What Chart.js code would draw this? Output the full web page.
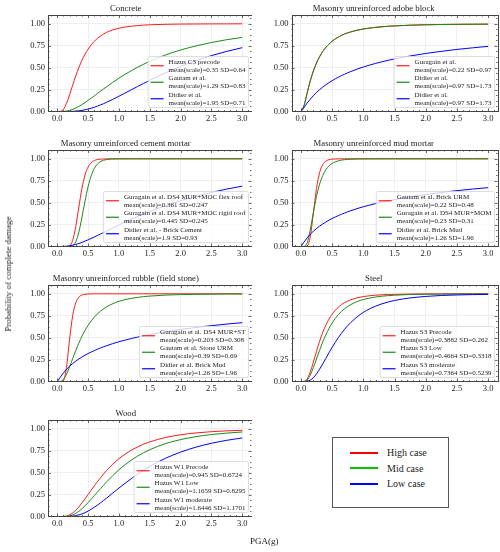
<!DOCTYPE html>
<html>
<head>
<meta charset="utf-8">
<script src="https://cdn.jsdelivr.net/npm/chart.js@4.4.1/dist/chart.umd.min.js"></script>
<style>
  body { margin: 0; width: 500px; height: 552px; background: #fff; position: relative; overflow: hidden; font-family: 'Liberation Serif', serif; color: #222; }
  canvas { position: absolute; }
  .ylab { position: absolute; left: 8px; top: 274px; transform: translate(-50%, -50%) rotate(-90deg); font-size: 9px; white-space: nowrap; }
  .xlab { position: absolute; left: 250px; top: 536px; font-size: 9px; }
  #caseLegend { position: absolute; left: 332px; top: 437px; width: 115px; height: 62px; border: 1px solid #555; padding-top: 7px; box-sizing: content-box; }
  #caseLegend .row { display: flex; align-items: center; height: 15.5px; }
  #caseLegend .swatch { margin-left: 17px; width: 28px; height: 2px; }
  #caseLegend .txt { margin-left: 9px; font-size: 10px; }
</style>
</head>
<body>
<canvas id="c1" width="252" height="135" style="left:0;top:0"></canvas>
<canvas id="c2" width="250" height="135" style="left:250px;top:0"></canvas>
<canvas id="c3" width="252" height="135" style="left:0;top:135px"></canvas>
<canvas id="c4" width="250" height="135" style="left:250px;top:135px"></canvas>
<canvas id="c5" width="252" height="135" style="left:0;top:270px"></canvas>
<canvas id="c6" width="250" height="135" style="left:250px;top:270px"></canvas>
<canvas id="c7" width="252" height="135" style="left:0;top:405px"></canvas>
<div class="ylab">Probability of complete damage</div>
<div class="xlab">PGA(g)</div>
<div id="caseLegend"></div>
<script>
// PGA sample points (g)
const pga = [0, 0.05, 0.1, 0.15, 0.2, 0.25, 0.3, 0.35, 0.4, 0.45, 0.5, 0.55, 0.6, 0.65, 0.7, 0.75, 0.8, 0.9, 1.0, 1.1, 1.2, 1.3, 1.4, 1.5, 1.75, 2.0, 2.25, 2.5, 2.75, 3.0];

const xTickValues = [0, 0.5, 1.0, 1.5, 2.0, 2.5, 3.0];
const xTickLabels = ['0.0', '0.5', '1.0', '1.5', '2.0', '2.5', '3.0'];
const yTickValues = [0, 0.25, 0.5, 0.75, 1.0];
const yTickLabels = ['0.00', '0.25', '0.50', '0.75', '1.00'];

const caseNames = ['High case', 'Mid case', 'Low case'];
const caseColors = ['#ff0000', '#00c000', '#0000ff'];
const lineColors = ['#ff1a1a', '#1a8a1a', '#0000ff'];

// Concrete
const concreteHigh = [0, 0.001, 0.025, 0.093, 0.191, 0.300, 0.405, 0.500, 0.583, 0.653, 0.711, 0.760, 0.800, 0.833, 0.860, 0.883, 0.902, 0.930, 0.949, 0.963, 0.973, 0.980, 0.985, 0.989, 0.994, 0.997, 0.998, 0.999, 0.999, 1.000];
const concreteMid = [0, 0, 0.001, 0.005, 0.012, 0.024, 0.040, 0.058, 0.079, 0.102, 0.127, 0.152, 0.178, 0.205, 0.231, 0.257, 0.282, 0.332, 0.380, 0.424, 0.465, 0.504, 0.539, 0.572, 0.643, 0.701, 0.748, 0.787, 0.819, 0.845];
const concreteLow = [0, 0, 0, 0, 0.001, 0.002, 0.004, 0.008, 0.013, 0.020, 0.028, 0.037, 0.049, 0.061, 0.075, 0.089, 0.105, 0.138, 0.174, 0.210, 0.247, 0.284, 0.320, 0.356, 0.440, 0.514, 0.580, 0.637, 0.686, 0.728];
const concreteNames = [['Hazus C3 precode', 'mean(scale)=0.35 SD=0.64'], ['Gautam et al.', 'mean(scale)=1.29 SD=0.83'], ['Didier et al.', 'mean(scale)=1.95 SD=0.71']];

// Masonry unreinforced adobe block
const adobeHigh = [0, 0.064, 0.208, 0.347, 0.461, 0.552, 0.625, 0.684, 0.731, 0.769, 0.801, 0.827, 0.849, 0.868, 0.884, 0.897, 0.908, 0.927, 0.941, 0.951, 0.960, 0.966, 0.972, 0.976, 0.984, 0.989, 0.992, 0.994, 0.995, 0.996];
const adobeMid = [0, 0.064, 0.208, 0.347, 0.461, 0.552, 0.625, 0.684, 0.731, 0.769, 0.801, 0.827, 0.849, 0.868, 0.884, 0.897, 0.908, 0.927, 0.941, 0.951, 0.960, 0.966, 0.972, 0.976, 0.984, 0.989, 0.992, 0.994, 0.995, 0.996];
const adobeLow = [0, 0.043, 0.095, 0.140, 0.181, 0.217, 0.249, 0.278, 0.304, 0.329, 0.351, 0.372, 0.391, 0.409, 0.425, 0.441, 0.456, 0.483, 0.507, 0.529, 0.549, 0.567, 0.584, 0.599, 0.633, 0.662, 0.686, 0.708, 0.726, 0.743];
const adobeNames = [['Guragain et al.', 'mean(scale)=0.22 SD=0.97'], ['Didier et al.', 'mean(scale)=0.97 SD=1.73'], ['Didier et al.', 'mean(scale)=0.97 SD=1.73']];

// Masonry unreinforced cement mortar
const cementHigh = [0, 0, 0, 0, 0.008, 0.069, 0.227, 0.450, 0.661, 0.814, 0.906, 0.956, 0.980, 0.991, 0.996, 0.998, 0.999, 1, 1, 1, 1, 1, 1, 1, 1, 1, 1, 1, 1, 1];
const cementMid = [0, 0, 0, 0, 0.001, 0.009, 0.054, 0.164, 0.332, 0.518, 0.683, 0.806, 0.889, 0.939, 0.968, 0.983, 0.992, 0.998, 1, 1, 1, 1, 1, 1, 1, 1, 1, 1, 1, 1];
const cementLow = [0, 0, 0.001, 0.003, 0.008, 0.015, 0.024, 0.034, 0.047, 0.061, 0.076, 0.092, 0.108, 0.125, 0.142, 0.159, 0.176, 0.211, 0.245, 0.278, 0.311, 0.342, 0.372, 0.400, 0.465, 0.522, 0.572, 0.616, 0.655, 0.688];
const cementNames = [['Guragain et al. DS4 MUR+MOC flex roof', 'mean(scale)=0.361 SD=0.247'], ['Guragain et al. DS4 MUR+MOC rigid roof', 'mean(scale)=0.445 SD=0.245'], ['Didier et al. - Brick Cement', 'mean(scale)=1.9 SD=0.93']];

// Masonry unreinforced mud mortar
const mudHigh = [0, 0, 0.005, 0.109, 0.380, 0.660, 0.841, 0.933, 0.973, 0.990, 0.996, 0.998, 0.999, 1, 1, 1, 1, 1, 1, 1, 1, 1, 1, 1, 1, 1, 1, 1, 1, 1];
const mudMid = [0, 0.001, 0.042, 0.187, 0.386, 0.569, 0.710, 0.809, 0.875, 0.919, 0.947, 0.965, 0.977, 0.985, 0.990, 0.993, 0.995, 0.998, 0.999, 0.999, 1, 1, 1, 1, 1, 1, 1, 1, 1, 1];
const mudLow = [0, 0.050, 0.098, 0.139, 0.174, 0.205, 0.232, 0.257, 0.279, 0.300, 0.319, 0.336, 0.352, 0.368, 0.382, 0.396, 0.408, 0.432, 0.453, 0.472, 0.490, 0.506, 0.521, 0.535, 0.567, 0.593, 0.616, 0.637, 0.655, 0.671];
const mudNames = [['Gautam et al. Brick URM', 'mean(scale)=0.22 SD=0.48'], ['Guragain et al. DS4 MUR+MOM', 'mean(scale)=0.23 SD=0.31'], ['Didier et al. Brick Mud', 'mean(scale)=1.26 SD=1.96']];

// Masonry unreinforced rubble (field stone)
const rubbleHigh = [0, 0, 0.011, 0.163, 0.481, 0.750, 0.897, 0.962, 0.986, 0.995, 0.998, 0.999, 1, 1, 1, 1, 1, 1, 1, 1, 1, 1, 1, 1, 1, 1, 1, 1, 1, 1];
const rubbleMid = [0, 0.001, 0.024, 0.083, 0.167, 0.260, 0.352, 0.438, 0.515, 0.582, 0.640, 0.691, 0.734, 0.770, 0.801, 0.828, 0.851, 0.887, 0.914, 0.934, 0.948, 0.959, 0.968, 0.974, 0.985, 0.991, 0.994, 0.996, 0.998, 0.998];
const rubbleLow = [0, 0.050, 0.098, 0.139, 0.174, 0.205, 0.232, 0.257, 0.279, 0.300, 0.319, 0.336, 0.352, 0.368, 0.382, 0.396, 0.408, 0.432, 0.453, 0.472, 0.490, 0.506, 0.521, 0.535, 0.567, 0.593, 0.616, 0.637, 0.655, 0.671];
const rubbleNames = [['Guragain et al. DS4 MUR+ST', 'mean(scale)=0.203 SD=0.308'], ['Gautam et al. Stone URM', 'mean(scale)=0.39 SD=0.69'], ['Didier et al. Brick Mud', 'mean(scale)=1.26 SD=1.96']];

// Steel
const steelHigh = [0, 0.001, 0.029, 0.108, 0.221, 0.343, 0.458, 0.558, 0.642, 0.711, 0.766, 0.811, 0.847, 0.876, 0.899, 0.917, 0.932, 0.954, 0.968, 0.978, 0.984, 0.989, 0.992, 0.994, 0.997, 0.999, 0.999, 1, 1, 1];
const steelMid = [0, 0.001, 0.018, 0.073, 0.158, 0.257, 0.356, 0.449, 0.532, 0.604, 0.666, 0.718, 0.762, 0.799, 0.830, 0.856, 0.877, 0.911, 0.935, 0.951, 0.964, 0.973, 0.979, 0.984, 0.992, 0.995, 0.997, 0.998, 0.999, 0.999];
const steelLow = [0, 0, 0.003, 0.015, 0.043, 0.086, 0.140, 0.200, 0.263, 0.327, 0.388, 0.446, 0.500, 0.550, 0.595, 0.636, 0.673, 0.736, 0.788, 0.828, 0.860, 0.886, 0.907, 0.924, 0.953, 0.970, 0.981, 0.987, 0.991, 0.994];
const steelNames = [['Hazus S3 Precode', 'mean(scale)=0.3882 SD=0.262'], ['Hazus S3 Low', 'mean(scale)=0.4664 SD=0.3318'], ['Hazus S3 moderate', 'mean(scale)=0.7364 SD=0.5239']];

// Wood
const woodHigh = [0, 0, 0.001, 0.005, 0.018, 0.040, 0.071, 0.109, 0.153, 0.201, 0.250, 0.300, 0.348, 0.396, 0.441, 0.484, 0.524, 0.596, 0.659, 0.711, 0.756, 0.793, 0.825, 0.851, 0.900, 0.932, 0.953, 0.967, 0.977, 0.983];
const woodMid = [0, 0, 0, 0.002, 0.007, 0.018, 0.036, 0.059, 0.088, 0.122, 0.158, 0.197, 0.237, 0.277, 0.317, 0.356, 0.394, 0.466, 0.532, 0.591, 0.642, 0.688, 0.728, 0.762, 0.830, 0.877, 0.911, 0.935, 0.951, 0.964];
const woodLow = [0, 0, 0, 0, 0.001, 0.004, 0.010, 0.018, 0.029, 0.044, 0.062, 0.082, 0.105, 0.129, 0.155, 0.182, 0.210, 0.267, 0.324, 0.379, 0.431, 0.481, 0.527, 0.570, 0.662, 0.734, 0.791, 0.835, 0.869, 0.896];
const woodNames = [['Hazus W1 Precode', 'mean(scale)=0.945 SD=0.6724'], ['Hazus W1 Low', 'mean(scale)=1.1659 SD=0.8295'], ['Hazus W1 moderate', 'mean(scale)=1.6446 SD=1.1701']];

const FONT = "'Liberation Serif', serif";
const TEXT = '#222';

// inward major/minor ticks on all four sides + the axes box
const frameTicks = {
  id: 'frameTicks',
  afterDatasetsDraw(chart) {
    const { ctx, chartArea: a, scales: { x, y } } = chart;
    ctx.save();
    ctx.strokeStyle = '#444';
    ctx.lineWidth = 0.8;
    ctx.beginPath();
    for (let k = -1; k <= 31; k++) {
      const px = Math.round(x.getPixelForValue(k / 10)) + 0.5;
      if (px < a.left || px > a.right) continue;
      const len = k % 5 === 0 ? 3 : 1.5;
      ctx.moveTo(px, a.bottom); ctx.lineTo(px, a.bottom - len);
      ctx.moveTo(px, a.top); ctx.lineTo(px, a.top + len);
    }
    for (let k = 0; k <= 17; k++) {
      const py = Math.round(y.getPixelForValue(k * 0.0625)) + 0.5;
      if (py < a.top || py > a.bottom) continue;
      const len = k % 4 === 0 ? 3 : 1.5;
      ctx.moveTo(a.left, py); ctx.lineTo(a.left + len, py);
      ctx.moveTo(a.right, py); ctx.lineTo(a.right - len, py);
    }
    ctx.stroke();
    ctx.lineWidth = 1;
    ctx.strokeRect(Math.round(a.left) + 0.5, Math.round(a.top) + 0.5, Math.round(a.right - a.left), Math.round(a.bottom - a.top));
    ctx.restore();
  }
};

// matplotlib-like legend box with two-line entries, lower right of the axes
const boxLegend = {
  id: 'boxLegend',
  afterDraw(chart, args, opts) {
    const items = opts.items;
    if (!items) return;
    const { ctx, chartArea: a } = chart;
    ctx.save();
    ctx.font = '7px ' + FONT;
    const padX = 2.5, handle = 13, gap = 5, entryH = 16.5;
    let textW = 0;
    items.forEach((it) => it.text.forEach((t) => { textW = Math.max(textW, ctx.measureText(t).width); }));
    const w = padX + handle + gap + textW + 3;
    const h = items.length * entryH + 1.5;
    const x0 = a.right - 3 - w;
    const y0 = a.bottom - 4 - h;
    ctx.beginPath();
    if (ctx.roundRect) ctx.roundRect(x0, y0, w, h, 2); else ctx.rect(x0, y0, w, h);
    ctx.fillStyle = 'rgba(255,255,255,0.8)';
    ctx.fill();
    ctx.strokeStyle = '#d4d4d4';
    ctx.lineWidth = 0.8;
    ctx.stroke();
    ctx.textBaseline = 'middle';
    items.forEach((it, i) => {
      const cy = y0 + 1 + i * entryH + entryH / 2;
      ctx.strokeStyle = it.color;
      ctx.lineWidth = 1.2;
      ctx.beginPath();
      ctx.moveTo(x0 + padX, cy);
      ctx.lineTo(x0 + padX + handle, cy);
      ctx.stroke();
      ctx.fillStyle = TEXT;
      ctx.fillText(it.text[0], x0 + padX + handle + gap, cy - 4);
      ctx.fillText(it.text[1], x0 + padX + handle + gap, cy + 4);
    });
    ctx.restore();
  }
};

function makePanel(id, title, series, names, leftCol) {
  const yWidth = leftCol ? 48 : 41.5;
  const padRight = leftCol ? 0.5 : 2.5;
  // eslint-disable-next-line no-undef
  return new Chart(document.getElementById(id), {
    type: 'line',
    data: {
      datasets: series.map((ys, i) => ({
        data: pga.map((x, j) => ({ x, y: ys[j] })),
        borderColor: lineColors[i],
        borderWidth: 1,
        pointRadius: 0,
        cubicInterpolationMode: 'monotone',
        fill: false,
        order: 2 - i,
      })),
    },
    options: {
      responsive: false,
      animation: false,
      devicePixelRatio: 1,
      layout: { padding: { left: 0, right: padRight, top: 0, bottom: 0 } },
      plugins: {
        legend: { display: false },
        tooltip: { enabled: false },
        title: { display: true, text: title, color: TEXT, font: { size: 8.7, family: FONT, weight: 'normal' }, padding: { top: 3.2, bottom: 1.4 } },
        boxLegend: { items: names.map((t, i) => ({ text: t, color: lineColors[i] })) },
      },
      scales: {
        x: {
          type: 'linear', min: -0.15, max: 3.15,
          afterBuildTicks: (s) => { s.ticks = xTickValues.map((v) => ({ value: v })); },
          afterFit: (s) => { s.height = 23.5; },
          grid: { color: '#ebebeb', lineWidth: 0.8, drawTicks: false },
          border: { display: false },
          ticks: { padding: 2.5, color: TEXT, font: { size: 8.5, family: FONT }, maxRotation: 0, autoSkip: false, callback: (v, i) => xTickLabels[i] },
        },
        y: {
          type: 'linear', min: 0, max: 1.1,
          afterBuildTicks: (s) => { s.ticks = yTickValues.map((v) => ({ value: v })); },
          afterFit: (s) => { s.width = yWidth; },
          grid: { color: '#ebebeb', lineWidth: 0.8, drawTicks: false },
          border: { display: false },
          ticks: { padding: 3, color: TEXT, font: { size: 8.5, family: FONT }, autoSkip: false, callback: (v, i) => yTickLabels[i] },
        },
      },
    },
    plugins: [frameTicks, boxLegend],
  });
}

makePanel('c1', 'Concrete', [concreteHigh, concreteMid, concreteLow], concreteNames, true);
makePanel('c2', 'Masonry unreinforced adobe block', [adobeHigh, adobeMid, adobeLow], adobeNames, false);
makePanel('c3', 'Masonry unreinforced cement mortar', [cementHigh, cementMid, cementLow], cementNames, true);
makePanel('c4', 'Masonry unreinforced mud mortar', [mudHigh, mudMid, mudLow], mudNames, false);
makePanel('c5', 'Masonry unreinforced rubble (field stone)', [rubbleHigh, rubbleMid, rubbleLow], rubbleNames, true);
makePanel('c6', 'Steel', [steelHigh, steelMid, steelLow], steelNames, false);
makePanel('c7', 'Wood', [woodHigh, woodMid, woodLow], woodNames, true);

// figure-level legend of the three cases
const caseLegend = document.getElementById('caseLegend');
caseNames.forEach((name, i) => {
  const row = document.createElement('div');
  row.className = 'row';
  const sw = document.createElement('span');
  sw.className = 'swatch';
  sw.style.background = caseColors[i];
  const tx = document.createElement('span');
  tx.className = 'txt';
  tx.textContent = name;
  row.appendChild(sw);
  row.appendChild(tx);
  caseLegend.appendChild(row);
});
</script>
</body>
</html>
